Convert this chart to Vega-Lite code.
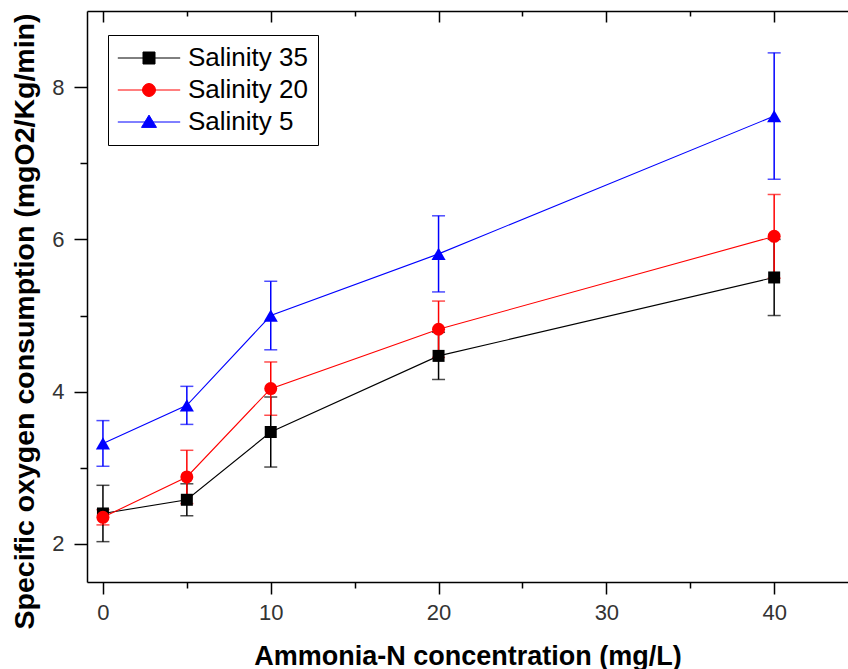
{
  "$schema": "https://vega.github.io/schema/vega-lite/v6.json",
  "autosize": {"type": "none"},
  "padding": {"left": 87, "top": 11, "right": 0, "bottom": 87},
  "width": 761,
  "height": 571,
  "background": "white",
  "config": {"view": {"stroke": null}},
  "data": {
    "values": [
      {"series": "Salinity 35", "conc": 0, "mean": 2.40, "err": 0.37},
      {"series": "Salinity 35", "conc": 5, "mean": 2.58, "err": 0.21},
      {"series": "Salinity 35", "conc": 10, "mean": 3.47, "err": 0.46},
      {"series": "Salinity 35", "conc": 20, "mean": 4.47, "err": 0.31},
      {"series": "Salinity 35", "conc": 40, "mean": 5.50, "err": 0.50},
      {"series": "Salinity 20", "conc": 0, "mean": 2.35, "err": 0.10},
      {"series": "Salinity 20", "conc": 5, "mean": 2.88, "err": 0.35},
      {"series": "Salinity 20", "conc": 10, "mean": 4.04, "err": 0.35},
      {"series": "Salinity 20", "conc": 20, "mean": 4.82, "err": 0.37},
      {"series": "Salinity 20", "conc": 40, "mean": 6.04, "err": 0.55},
      {"series": "Salinity 5", "conc": 0, "mean": 3.32, "err": 0.30},
      {"series": "Salinity 5", "conc": 5, "mean": 3.82, "err": 0.25},
      {"series": "Salinity 5", "conc": 10, "mean": 5.00, "err": 0.45},
      {"series": "Salinity 5", "conc": 20, "mean": 5.81, "err": 0.50},
      {"series": "Salinity 5", "conc": 40, "mean": 7.62, "err": 0.83}
    ]
  },
  "resolve": {"axis": {"x": "independent", "y": "independent"}},
  "layer": [
    {
      "mark": {"type": "line", "strokeWidth": 1.1},
      "encoding": {
        "x": {
          "field": "conc", "type": "quantitative",
          "scale": {"domain": [-0.95, 44.4], "nice": false, "zero": false},
          "axis": {
            "orient": "bottom",
            "values": [0, 5, 10, 15, 20, 25, 30, 35, 40],
            "labelExpr": "datum.value % 10 === 0 ? datum.label : ''",
            "tickSize": {"condition": {"test": "datum.value % 10 === 0", "value": 12}, "value": 6},
            "grid": false,
            "domainColor": "black", "domainWidth": 1.5,
            "tickColor": "black", "tickWidth": 1.5,
            "labelFont": "Liberation Sans", "labelFontSize": 22, "labelColor": "#333333",
            "labelPadding": 8, "labelFlush": false,
            "title": "Ammonia-N concentration (mg/L)",
            "titleFont": "Liberation Sans", "titleFontSize": 27, "titleFontWeight": "bold", "titleColor": "black",
            "titleBaseline": "alphabetic", "titleY": 82
          }
        },
        "y": {
          "field": "mean", "type": "quantitative",
          "scale": {"domain": [1.5, 9], "nice": false, "zero": false},
          "axis": {
            "orient": "left",
            "values": [2, 3, 4, 5, 6, 7, 8],
            "labelExpr": "datum.value % 2 === 0 ? datum.label : ''",
            "tickSize": {"condition": {"test": "datum.value % 2 === 0", "value": 13}, "value": 7},
            "grid": false,
            "domainColor": "black", "domainWidth": 1.5,
            "tickColor": "black", "tickWidth": 1.5,
            "labelFont": "Liberation Sans", "labelFontSize": 22, "labelColor": "#333333",
            "labelPadding": 10, "labelFlush": false,
            "title": "Specific oxygen consumption (mgO2/Kg/min)",
            "titleFont": "Liberation Sans", "titleFontSize": 28.5, "titleFontWeight": "bold", "titleColor": "black",
            "titleAngle": -90, "titleAlign": "center", "titleBaseline": "alphabetic",
            "titleX": -54, "titleY": 310
          }
        },
        "color": {
          "field": "series", "type": "nominal",
          "scale": {"domain": ["Salinity 35", "Salinity 20", "Salinity 5"], "range": ["#000000", "#ff0000", "#0000ff"]},
          "legend": {
            "orient": "none", "legendX": 21, "legendY": 24,
            "title": null,
            "labelFont": "Liberation Sans", "labelFontSize": 26, "labelColor": "black",
            "symbolSize": 144, "symbolStrokeWidth": 1, "symbolOpacity": 1,
            "padding": 10, "rowPadding": 6,
            "symbolOffset": 18, "labelOffset": 26,
            "strokeColor": "black", "fillColor": "white",
            "encode": {
              "symbols": {
                "update": {
                  "shape": {"signal": "datum.value === 'Salinity 35' ? 'M-5.2,0H5.2M-1,-1H1V1H-1Z' : datum.value === 'Salinity 20' ? 'M-5.2,0H5.2M1.08,0A1.08,1.08,0,1,1,-1.08,0A1.08,1.08,0,1,1,1.08,0Z' : 'M-5.2,0H5.2M0,-1.15L1.25,0.9H-1.25Z'"},
                  "fill": {"signal": "scale('color', datum.value)"},
                  "stroke": {"signal": "scale('color', datum.value)"},
                  "strokeWidth": {"value": 1},
                  "opacity": {"value": 1}
                }
              }
            }
          }
        }
      }
    },
    {
      "mark": {"type": "errorbar", "ticks": {"size": 13, "thickness": 1.5}, "thickness": 1.5},
      "encoding": {
        "x": {"field": "conc", "type": "quantitative", "axis": null},
        "y": {"field": "mean", "type": "quantitative", "axis": null},
        "yError": {"field": "err"},
        "color": {"field": "series", "type": "nominal"}
      }
    },
    {
      "transform": [{"filter": "datum.series === 'Salinity 35'"}],
      "mark": {"type": "point", "filled": true, "opacity": 1, "shape": "square", "size": 144},
      "encoding": {
        "x": {
          "field": "conc", "type": "quantitative",
          "axis": {
            "orient": "top",
            "values": [0, 5, 10, 15, 20, 25, 30, 35, 40],
            "labels": false,
            "title": null,
            "tickSize": {"condition": {"test": "datum.value % 10 === 0", "value": -11}, "value": -5},
            "grid": false,
            "domainColor": "black", "domainWidth": 1.5,
            "tickColor": "black", "tickWidth": 1.5
          }
        },
        "y": {"field": "mean", "type": "quantitative", "axis": null},
        "color": {"field": "series", "type": "nominal"}
      }
    },
    {
      "transform": [{"filter": "datum.series === 'Salinity 20'"}],
      "mark": {"type": "point", "filled": true, "opacity": 1, "shape": "circle", "size": 169},
      "encoding": {
        "x": {"field": "conc", "type": "quantitative", "axis": null},
        "y": {"field": "mean", "type": "quantitative", "axis": null},
        "color": {"field": "series", "type": "nominal"}
      }
    },
    {
      "transform": [{"filter": "datum.series === 'Salinity 5'"}],
      "mark": {"type": "point", "filled": true, "opacity": 1, "shape": "triangle-up", "size": 200},
      "encoding": {
        "x": {"field": "conc", "type": "quantitative", "axis": null},
        "y": {"field": "mean", "type": "quantitative", "axis": null},
        "color": {"field": "series", "type": "nominal"}
      }
    }
  ]
}
